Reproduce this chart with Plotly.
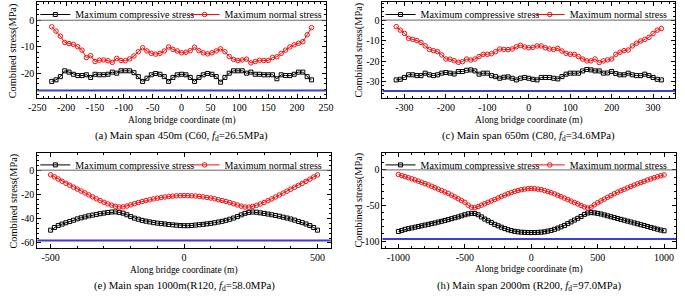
import math
import plotly.graph_objects as go

W, H = 685, 298
FONT = "Liberation Serif, Times New Roman, serif"

# ---------------- data ----------------
# (a) Main span 450 m
x_a = [-225, -217.5, -210, -202.5, -195, -187.5, -180, -172.5, -165, -157.5, -150, -142.5, -135, -127.5,
       -120, -112.5, -105, -97.5, -90, -82.5, -75, -67.5, -60, -52.5, -45, -37.5, -30, -22.5, -15, -7.5,
       0, 7.5, 15, 22.5, 30, 37.5, 45, 52.5, 60, 67.5, 75, 82.5, 90, 97.5, 105, 112.5, 120, 127.5, 135,
       142.5, 150, 157.5, 165, 172.5, 180, 187.5, 195, 202.5, 210, 217.5, 225]
comp_a = [-23.1, -22.5, -21.3, -19.1, -19.6, -20.4, -20.9, -20.9, -20.6, -21.6,
          -20.4, -20.6, -20.6, -20.4, -19.6, -20.0, -19.1, -19.1, -19.1, -19.8,
          -21.3, -23.1, -21.9, -20.6, -20.1, -20.4, -21.3, -23.1, -21.6, -20.6,
          -20.4, -20.6, -21.6, -23.1, -21.6, -20.6, -20.1, -20.4, -21.3, -23.4,
          -21.6, -20.0, -19.1, -19.1, -19.1, -20.0, -19.6, -20.4, -20.4, -20.6,
          -20.6, -20.6, -22.1, -20.6, -20.9, -20.9, -20.4, -19.6, -19.6, -21.3, -22.5]
norm_a = [-2.5, -4.1, -6.0, -8.4, -8.8, -9.1, -10.0, -11.3, -14.1, -13.4,
          -15.6, -15.1, -15.0, -15.3, -15.9, -14.4, -15.2, -15.3, -14.6, -13.5,
          -11.9, -10.4, -11.6, -12.5, -12.8, -12.5, -11.6, -10.1, -11.0, -11.6,
          -12.3, -12.1, -11.5, -10.2, -11.5, -12.3, -12.7, -12.3, -11.6, -10.8,
          -11.9, -13.7, -14.8, -15.2, -15.0, -14.7, -16.1, -15.6, -15.1, -15.2,
          -15.2, -14.1, -13.8, -12.5, -11.3, -10.1, -9.3, -8.7, -8.1, -5.5, -2.8]

# (c) Main span 650 m
x_c = [-320, -310, -300, -290, -280, -270, -260, -250, -240, -230, -220, -210, -200, -190, -180, -170,
       -160, -150, -140, -130, -120, -110, -100, -90, -80, -70, -60, -50, -40, -30, -20, -10, 0,
       10, 20, 30, 40, 50, 60, 70, 80, 90, 100, 110, 120, 130, 140, 150, 160, 170, 180, 190, 200,
       210, 220, 230, 240, 250, 260, 270, 280, 290, 300, 310, 320]
comp_c = [-29.2, -28.9, -28.0, -26.7, -26.7, -27.1, -27.1, -25.9, -26.7, -27.1,
          -26.7, -25.9, -25.6, -25.9, -26.3, -25.1, -25.1, -24.5, -24.3, -24.8,
          -26.4, -25.9, -25.9, -27.1, -27.6, -28.4, -27.9, -27.7, -28.4, -29.2,
          -28.4, -28.0, -28.4, -28.9, -29.2, -28.0, -28.0, -28.0, -28.4, -28.7,
          -27.6, -26.4, -25.9, -25.9, -25.9, -24.8, -24.1, -24.3, -24.8, -24.8,
          -25.9, -25.8, -25.1, -26.1, -26.7, -26.7, -25.9, -26.7, -27.1, -27.1,
          -26.4, -27.1, -28.0, -28.9, -29.2]
norm_c = [-3.2, -4.9, -6.5, -8.9, -9.4, -10.0, -10.9, -12.6, -14.3, -14.9,
          -15.4, -17.0, -19.0, -19.1, -19.8, -20.6, -20.3, -19.0, -19.5, -19.0,
          -17.8, -16.7, -16.7, -16.4, -15.4, -14.1, -14.3, -14.4, -14.1, -13.0,
          -12.3, -13.1, -13.5, -13.3, -12.6, -12.6, -13.5, -14.1, -14.3, -13.8,
          -15.1, -16.2, -16.7, -16.7, -17.8, -19.0, -19.9, -19.9, -19.0, -20.7,
          -19.9, -19.4, -19.0, -16.7, -15.7, -14.9, -14.6, -12.6, -11.3, -10.2,
          -9.4, -8.4, -6.5, -4.9, -4.1]

# (e) Main span 1000 m  (71 stations, -500 ... 500 m)
x_e = [round(-500 + i * 1000 / 70, 2) for i in range(71)]
comp_e = [-49.5, -47.3, -45.6, -44.5, -43.4, -42.4, -41.3, -40.2, -39.3, -38.6,
          -37.7, -37.1, -36.5, -35.9, -35.4, -34.9, -34.5, -34.4, -34.8, -35.5,
          -36.8, -38.3, -39.6, -40.5, -41.4, -42.1, -42.7, -43.3, -43.7, -44.1,
          -44.4, -44.8, -45.1, -45.4, -45.7, -45.8, -45.8, -45.6, -45.3, -45.0,
          -44.7, -44.3, -43.9, -43.4, -42.8, -42.2, -41.4, -40.5, -39.5, -38.3,
          -36.9, -35.6, -34.8, -34.5, -34.7, -35.2, -35.7, -36.2, -36.8, -37.4,
          -38.0, -38.8, -39.5, -40.3, -41.2, -42.3, -43.3, -44.4, -45.7, -47.3, -49.5]
norm_e = [-3.8, -5.5, -7.3, -9.1, -10.8, -12.4, -14.0, -15.6, -17.2, -18.8,
          -20.4, -22.0, -23.6, -25.1, -26.5, -27.8, -28.9, -29.8, -30.3, -30.3,
          -29.6, -28.6, -27.6, -26.7, -25.9, -25.1, -24.4, -23.7, -23.1, -22.6,
          -22.1, -21.7, -21.4, -21.1, -21.0, -20.9, -21.0, -21.1, -21.3, -21.6,
          -22.0, -22.5, -23.0, -23.6, -24.3, -25.0, -25.8, -26.7, -27.7, -28.7,
          -29.7, -30.4, -30.5, -29.9, -29.0, -27.9, -26.6, -25.2, -23.7, -22.1,
          -20.5, -18.9, -17.3, -15.7, -14.1, -12.5, -10.9, -9.2, -7.4, -5.6, -3.9]

# (h) Main span 2000 m (81 stations, 25 m apart)
x_h = [-1000 + 25 * i for i in range(81)]
comp_h = [-86.5, -85.0, -83.5, -82.5, -81.5, -80.5, -79.5, -78.5, -77.5, -76.5,
          -75.5, -74.5, -73.3, -72.2, -71.0, -69.8, -68.5, -67.2, -66.0, -64.5,
          -63.0, -61.8, -61.0, -61.3, -63.0, -66.0, -69.0, -71.5, -74.0, -76.5,
          -78.5, -80.5, -82.3, -84.0, -85.3, -86.3, -87.0, -87.5, -87.8, -88.0,
          -88.0,
          -88.0, -87.8, -87.5, -87.0, -86.0, -85.0, -83.5, -81.8, -80.0, -78.0,
          -75.5, -73.0, -70.5, -68.0, -65.5, -62.5, -60.5, -60.0, -60.3, -61.0,
          -62.0, -63.2, -64.5, -65.8, -67.0, -68.3, -69.5, -70.7, -72.0, -73.2,
          -74.5, -75.7, -77.0, -78.2, -79.5, -80.8, -82.0, -83.3, -84.5, -85.5]
norm_h = [-6.5, -8.0, -9.5, -11.0, -12.5, -14.0, -15.8, -17.5, -19.3, -21.0,
          -23.0, -25.0, -27.0, -29.0, -31.0, -33.0, -35.5, -38.0, -40.5, -43.0,
          -45.5, -49.5, -52.5, -53.2, -51.5, -49.5, -47.5, -45.5, -43.5, -41.5,
          -39.5, -37.5, -35.5, -33.5, -31.8, -30.2, -29.0, -27.8, -27.0, -26.4,
          -26.2,
          -26.4, -27.0, -27.8, -29.0, -30.3, -32.0, -33.7, -35.6, -37.6, -39.6,
          -41.7, -43.7, -45.8, -47.8, -50.0, -52.0, -53.5, -52.5, -49.0, -46.0,
          -43.5, -41.0, -38.5, -36.0, -33.5, -31.3, -29.2, -27.2, -25.2, -23.2,
          -21.3, -19.5, -17.7, -16.0, -14.2, -12.6, -11.0, -9.6, -8.2, -7.0]

# design strengths f_d (MPa)
fd = [26.5, 34.6, 58.0, 97.0]

# tick values
xt_a = [-250, -200, -150, -100, -50, 0, 50, 100, 150, 200, 250]
yt_a = [0, -10, -20]
xt_c = [-300, -200, -100, 0, 100, 200, 300]
yt_c = [0, -10, -20, -30]
xt_e = [-500, 0, 500]
yt_e = [0, -20, -40, -60]
xt_h = [-1000, -500, 0, 500, 1000]
yt_h = [0, -50, -100]

captions = ["(a) Main span 450m (C60, <i>f</i><sub>d</sub>=26.5MPa)",
            "(c) Main span 650m (C80, <i>f</i><sub>d</sub>=34.6MPa)",
            "(e) Main span 1000m(R120, <i>f</i><sub>d</sub>=58.0MPa)",
            "(h) Main span 2000m (R200, <i>f</i><sub>d</sub>=97.0MPa)"]
xtitle = "Along bridge coordinate (m)"
ytitle = "Combined stress(MPa)"
name_comp = "Maximum compressive stress"
name_norm = "Maximum normal stress"

# ---------------- layout geometry (pixels) ----------------
panels = [
    dict(box=(29, 325, 0.5, 97), xr=[-250, 250], yr=[-29.5, 6.7], xm=10, ym=2,
         x=x_a, c=comp_a, n=norm_a, xt=xt_a, yt=yt_a),
    dict(box=(383, 683, 0.5, 97), xr=[-353, 353], yr=[-38.2, 8.6], xm=20, ym=2,
         x=x_c, c=comp_c, n=norm_c, xt=xt_c, yt=yt_c),
    dict(box=(29, 330, 152, 248), xr=[-550, 550], yr=[-64.5, 14.2], xm=100, ym=4,
         x=x_e, c=comp_e, n=norm_e, xt=xt_e, yt=yt_e),
    dict(box=(383, 684, 152, 247.5), xr=[-1120, 1090], yr=[-109.5, 23.8], xm=100, ym=10,
         x=x_h, c=comp_h, n=norm_h, xt=xt_h, yt=yt_h),
]


def px(xp):
    return xp / W


def py(yp):
    return 1 - yp / H


fig = go.Figure()
layout = dict(width=W, height=H, margin=dict(l=0, r=0, t=0, b=0),
              paper_bgcolor="white", plot_bgcolor="white", showlegend=True,
              font=dict(family=FONT, size=10, color="black"),
              annotations=[], shapes=[])

for i, p in enumerate(panels):
    k = "" if i == 0 else str(i + 1)
    xa, ya = "x" + k, "y" + k
    lg1 = "legend" if i == 0 else "legend" + str(2 * i + 1)
    lg2 = "legend" + str(2 * i + 2)
    x0, x1, yt_, yb_ = p["box"]
    fig.add_trace(go.Scatter(x=p["x"], y=p["c"], name=name_comp, xaxis=xa, yaxis=ya, legend=lg1,
                             mode="lines+markers", showlegend=True,
                             line=dict(color="black", width=1),
                             marker=dict(symbol="square-open", size=4, color="black",
                                         line=dict(width=1, color="black"))))
    fig.add_trace(go.Scatter(x=p["x"], y=p["n"], name=name_norm, xaxis=xa, yaxis=ya, legend=lg2,
                             mode="lines+markers", showlegend=True,
                             line=dict(color="#ee1111", width=1),
                             marker=dict(symbol="circle-open", size=4.5, color="#ee1111",
                                         line=dict(width=1, color="#ee1111"))))
    xr, yr = p["xr"], p["yr"]
    xminor = [v * p["xm"] for v in range(math.ceil(xr[0] / p["xm"]), math.floor(xr[1] / p["xm"]) + 1)]
    yminor = [v * p["ym"] for v in range(math.ceil(yr[0] / p["ym"]), math.floor(yr[1] / p["ym"]) + 1)]
    common = dict(showline=True, linecolor="black", linewidth=1, mirror="allticks",
                  ticks="inside", ticklen=4, tickwidth=1, tickcolor="black",
                  showgrid=False, zeroline=False,
                  tickfont=dict(family=FONT, size=10, color="black"))
    layout["xaxis" + k] = dict(common, domain=[px(x0), px(x1)], range=xr, anchor=ya,
                               tickmode="array", tickvals=p["xt"], ticktext=[str(v) for v in p["xt"]],
                               minor=dict(tickmode="array", tickvals=xminor, ticks="inside",
                                          ticklen=2, tickcolor="black"))
    layout["yaxis" + k] = dict(common, domain=[py(yb_), py(yt_)], range=yr, anchor=xa,
                               tickmode="array", tickvals=p["yt"], ticktext=[str(v) for v in p["yt"]],
                               minor=dict(tickmode="array", tickvals=yminor, ticks="inside",
                                          ticklen=2, tickcolor="black"))
    # zero line and design strength line
    layout["shapes"].append(dict(type="line", xref=xa + " domain", yref=ya, x0=0, x1=1, y0=0, y1=0,
                                 line=dict(color="#666666", width=1)))
    layout["shapes"].append(dict(type="line", xref=xa + " domain", yref=ya, x0=0, x1=1,
                                 y0=-fd[i], y1=-fd[i], line=dict(color="#3b3fd6", width=2)))
    # legends (one entry each so that both can be placed like the original)
    leg_common = dict(orientation="h", xanchor="left", y=py(yt_ + 12), yanchor="middle",
                      bgcolor="rgba(0,0,0,0)", font=dict(family=FONT, size=10, color="black"),
                      itemwidth=30, visible=True)
    layout[lg1] = dict(leg_common, x=px(x0 - 2))
    layout[lg2] = dict(leg_common, x=px(x0 + 151))
    # captions and axis titles
    cx = (x0 + x1) / 2
    layout["annotations"].append(dict(text=captions[i], xref="paper", yref="paper",
                                      x=px(cx), y=py(yb_ + 38), xanchor="center", yanchor="middle",
                                      showarrow=False, font=dict(family=FONT, size=10.8, color="black")))
    layout["annotations"].append(dict(text=xtitle, xref="paper", yref="paper",
                                      x=px(cx), y=py(yb_ + 22), xanchor="center", yanchor="middle",
                                      showarrow=False, font=dict(family=FONT, size=9.4, color="black")))
    layout["annotations"].append(dict(text=ytitle, xref="paper", yref="paper",
                                      x=px(x0 - 24), y=py((yt_ + yb_) / 2), xanchor="center",
                                      yanchor="middle", textangle=-90,
                                      showarrow=False, font=dict(family=FONT, size=10.3, color="black")))

fig.update_layout(**layout)
fig.write_html("out.html", config={"displayModeBar": False},
               post_script="document.body.style.margin='0px';")
